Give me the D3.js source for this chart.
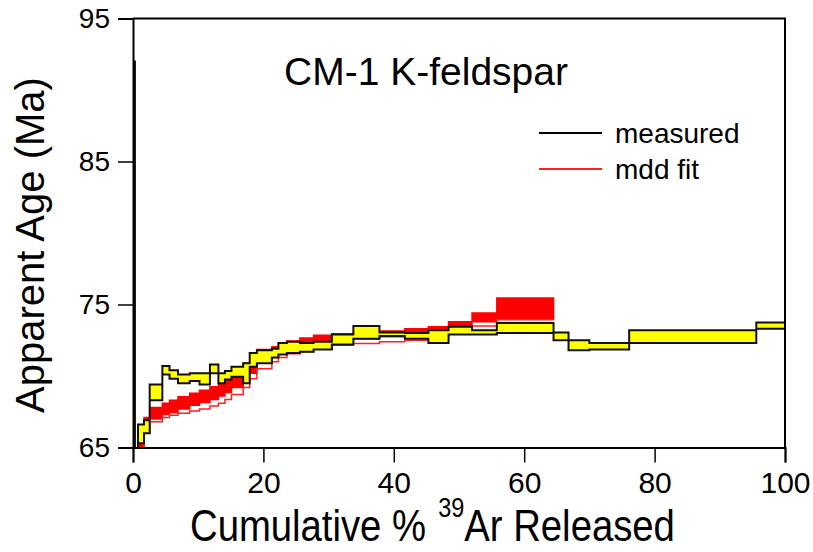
<!DOCTYPE html>
<html>
<head>
<meta charset="utf-8">
<script src="https://cdn.jsdelivr.net/npm/d3@7"></script>
<style>
body{margin:0;background:#fff;}
text{font-family:"Liberation Sans",Arial,sans-serif;}
</style>
</head>
<body>
<svg id="chart" width="813" height="552"></svg>
<script>
// cumulative % 39Ar at step edges
const stepEdges = [0, 0.3, 0.77, 1.69, 2.56, 4.5, 5.6, 6.9, 8.7, 10.2, 11.8, 13.1, 14.1, 15.1, 16.9, 17.9, 19.0, 21.3, 22.3, 23.6, 25.6, 27.7, 30.5, 33.8, 37.8, 41.7, 45.3, 48.4, 52.0, 55.8, 64.5, 66.8, 70.0, 76.1, 95.6, 100];
// measured age, lower and upper bound (Ma)
const measLow  = [64.0, 63.5, 65.3, 66.0, 68.3, 70.1, 69.8, 69.5, 69.65, 69.4, 70.2, 69.5, 69.75, 69.95, 69.5, 70.65, 70.9, 71.3, 71.5, 71.6, 71.7, 71.85, 72.2, 72.6, 72.8, 72.6, 72.3, 72.9, 72.9, 73.0, 72.5, 71.8, 71.85, 72.3, 73.3];
const measHigh = [92.0, 64.9, 66.6, 66.9, 69.4, 70.7, 70.4, 70.1, 70.2, 70.2, 70.8, 70.2, 70.35, 70.65, 70.9, 71.6, 71.8, 71.9, 72.3, 72.4, 72.3, 72.4, 72.9, 73.5, 73.05, 73.0, 73.2, 73.45, 73.2, 73.7, 73.05, 72.5, 72.3, 73.2, 73.75];
// mdd fit band (top / bottom) and lowest model, for steps up to 64.5 %
const fitTop = [62.0, 64.9, 65.8, 67.1, 67.8, 68.1, 68.3, 68.55, 68.8, 69.0, 69.25, 69.45, 69.7, 70.3, 70.9, 71.35, 71.85, 72.05, 72.3, 72.45, 72.65, 72.85, 72.95, 73.05, 73.15, 73.3, 73.45, 73.8, 74.4, 75.45];
const fitBot = [61.0, 64.0, 65.0, 66.2, 67.0, 67.3, 67.45, 67.7, 67.95, 68.15, 68.35, 68.6, 68.85, 69.2, 69.6, 70.2, 70.9, 71.3, 71.6, 71.85, 72.05, 72.3, 72.45, 72.6, 72.75, 72.9, 73.15, 73.4, 73.8, 73.95];
const fitLow = [61.0, 63.8, 64.8, 66.0, 66.8, 67.1, 67.25, 67.4, 67.55, 67.7, 67.9, 68.1, 68.35, 68.7, 69.2, 69.8, 70.5, 71.0, 71.3, 71.55, 71.7, 71.9, 72.15, 72.28, 72.4, 72.5, 72.7, 73.0, 73.5, 73.95];

const xTicks = [0, 20, 40, 60, 80, 100];
const xMinor = [10, 30, 50, 70, 90];
const yTicks = [65, 75, 85, 95];
const yMinor = [70, 80, 90];

const pLeft = 133, pRight = 785, pTop = 18.5, pBottom = 447.5;
const svg = d3.select("#chart");

const x = d3.scaleLinear().domain([0, 100]).range([pLeft, pRight]);
const y = d3.scaleLinear().domain([65, 95]).range([pBottom, pTop]);

function stepData(lo, hi){
	let n = lo.length;
	let d = [];
	for(var i = 0; i < n; i++){
		d.push({x: stepEdges[i], lo: lo[i], hi: hi[i]});
	}
	d.push({x: stepEdges[n], lo: lo[n-1], hi: hi[n-1]});
	return d;
}

svg.append("defs").append("clipPath").attr("id", "clip")
	.append("rect")
	.attr("x", pLeft).attr("y", pTop)
	.attr("width", pRight - pLeft).attr("height", pBottom - pTop);

const plot = svg.append("g").attr("clip-path", "url(#clip)");

const area = d3.area()
	.x(d => x(d.x))
	.y0(d => y(d.lo))
	.y1(d => y(d.hi))
	.curve(d3.curveStepAfter);

// model fit
plot.append("path")
	.datum(stepData(fitBot, fitTop))
	.attr("d", area)
	.attr("fill", "#ff0000")
	.attr("stroke", "#ff0000")
	.attr("stroke-width", 1.5);

plot.append("path")
	.datum(stepData(fitLow, fitLow))
	.attr("d", d3.line().x(d => x(d.x)).y(d => y(d.lo)).curve(d3.curveStepAfter))
	.attr("fill", "none")
	.attr("stroke", "#ff2020")
	.attr("stroke-width", 1.5);

// measured spectrum
plot.append("path")
	.datum(stepData(measLow, measHigh))
	.attr("d", area)
	.attr("fill", "#ffff00")
	.attr("stroke", "#111")
	.attr("stroke-width", 2)
	.attr("stroke-linejoin", "miter");

// axes
const gx = svg.append("g").attr("transform", "translate(0," + pBottom + ")");
gx.call(d3.axisBottom(x).tickValues(xMinor).tickSize(8).tickFormat(""));
gx.call(d3.axisBottom(x).tickValues(xTicks).tickSize(15).tickPadding(9));
const gy = svg.append("g").attr("transform", "translate(" + pLeft + ",0)");
gy.call(d3.axisLeft(y).tickValues(yMinor).tickSize(8).tickFormat(""));
gy.call(d3.axisLeft(y).tickValues(yTicks).tickSize(15).tickPadding(8));

svg.selectAll(".domain").attr("stroke-width", 2);
svg.selectAll(".tick line").attr("stroke-width", 1.5);
gx.selectAll("text").attr("font-size", 30).attr("font-family", "Liberation Sans, Arial, sans-serif");
gy.selectAll("text").attr("font-size", 28).attr("font-family", "Liberation Sans, Arial, sans-serif");

// frame top and right
svg.append("path")
	.attr("d", "M" + pLeft + "," + pTop + "H" + pRight + "V" + pBottom)
	.attr("fill", "none")
	.attr("stroke", "#000")
	.attr("stroke-width", 2);

// titles
svg.append("text")
	.attr("x", 426).attr("y", 85)
	.attr("text-anchor", "middle")
	.attr("font-size", 39)
	.text("CM-1 K-feldspar");

// x title, slightly condensed like the original
const xt = svg.append("g").attr("transform", "translate(190,541) scale(0.87,1)");
const t1 = xt.append("text").attr("x", 0).attr("y", 0).attr("font-size", 44).text("Cumulative %");
let w1 = t1.node().getComputedTextLength();
const t2 = xt.append("text").attr("x", w1 + 14).attr("y", -24).attr("font-size", 27).text("39");
let w2 = t2.node().getComputedTextLength();
xt.append("text").attr("x", w1 + 14 + w2).attr("y", 0).attr("font-size", 44).text("Ar Released");

svg.append("text")
	.attr("transform", "translate(44,245) rotate(-90)")
	.attr("text-anchor", "middle")
	.attr("font-size", 40)
	.text("Apparent Age (Ma)");

// legend
const legend = [{label: "measured", color: "#000", y: 133}, {label: "mdd fit", color: "#ff2020", y: 169}];
legend.forEach(function(l){
	svg.append("line")
		.attr("x1", 539).attr("x2", 602)
		.attr("y1", l.y).attr("y2", l.y)
		.attr("stroke", l.color)
		.attr("stroke-width", 2);
	svg.append("text")
		.attr("x", 615).attr("y", l.y + 10)
		.attr("font-size", 28)
		.text(l.label);
});
</script>
</body>
</html>
